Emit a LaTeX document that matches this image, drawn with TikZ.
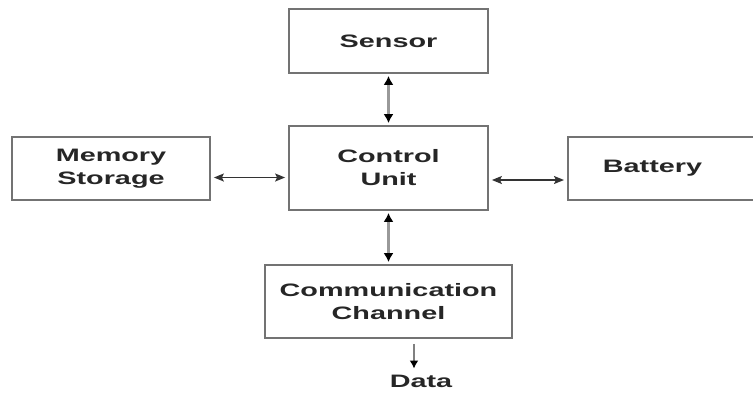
\documentclass[tikz,border=0pt]{standalone}
\usepackage{fontspec}
\setmainfont[FakeStretch=1.6]{Liberation Sans}
\usetikzlibrary{arrows.meta}

\begin{document}
\begin{tikzpicture}[x=1pt,y=-1pt,
    block/.style={draw=black!55, line width=1.8pt, minimum width=199pt, minimum height=64pt,
        inner sep=0pt, align=center, text=black!85, font=\fontsize{18}{23}\selectfont\bfseries},
    link/.style={{Latex[length=9pt,width=10pt,black]}-{Latex[length=9pt,width=10pt,black]},
        draw=black!40, line width=2.8pt, shorten <=2pt, shorten >=2pt},
    side/.style={{Stealth[length=10pt,width=8pt,inset=2pt]}-{Stealth[length=10pt,width=8pt,inset=2pt]},
        draw=black!80, line width=1.5pt, shorten <=3pt, shorten >=3pt}]
\useasboundingbox (0,0) rectangle (753,392);
\clip (0,0) rectangle (753,392);

% Blocks
\node[block] (sensor) at (388.5,41) {Sensor};
\node[block, minimum height=84pt] (ctrl) at (388.5,168) {Control\\Unit};
\node[block, minimum width=198pt, minimum height=63pt] (mem) at (111,168.5) {Memory\\Storage};
\node[block, anchor=west, minimum height=63pt, inner xsep=35pt, text width=170pt, align=left]
    (batt) at (567,168.5) {Battery};
\node[block, minimum width=247pt, minimum height=73pt] (comm) at (388.5,301.5) {Communication\\Channel};
\node[font=\fontsize{18}{23}\selectfont\bfseries, text=black!85, inner sep=0pt] (data) at (421,381) {Data};

% Vertical links
\draw[link] (sensor) -- (ctrl);
\draw[link] (ctrl) -- (comm);

% Side links
\draw[side] ([yshift=-9pt]mem.east) -- ([yshift=-9pt]mem.east -| ctrl.west);
\draw[side] ([yshift=-12pt]ctrl.east) -- ([yshift=-12pt]ctrl.east -| batt.west);

% Data out
\draw[-{Latex[length=8pt,width=9pt,black]}, draw=black!50, line width=2pt, shorten <=5pt, shorten >=6pt]
    ([xshift=-7pt]data.north |- comm.south) -- ([xshift=-7pt]data.north);
\end{tikzpicture}
\end{document}
